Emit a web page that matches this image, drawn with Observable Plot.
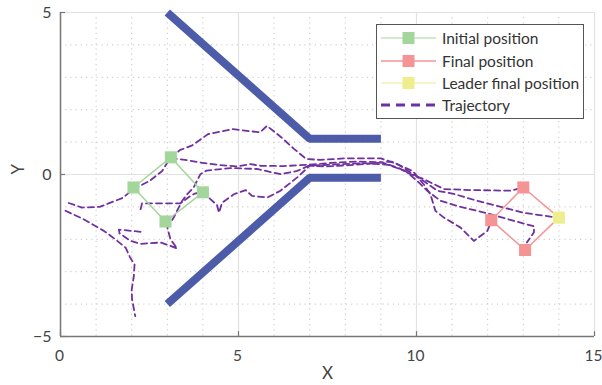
<!DOCTYPE html>
<html>
<head>
<meta charset="utf-8">
<script src="https://cdn.jsdelivr.net/npm/d3@7"></script>
<script src="https://cdn.jsdelivr.net/npm/@observablehq/plot@0.6"></script>
<style>
  body { margin: 0; background: white; }
  #wrap { position: relative; width: 602px; height: 385px; font-family: Lato, "Noto Sans", sans-serif; }
  #legend { position: absolute; left: 376px; top: 24px; width: 208px; height: 95px; border: 1px solid #555; background: white; box-sizing: border-box; }
  .row { position: absolute; left: 0; height: 20px; display: flex; align-items: center; }
  .row span { font-size: 15.5px; color: #333; margin-left: 5px; white-space: nowrap; }
</style>
</head>
<body>
<div id="wrap"></div>
<script>
// ---- data ----
const xTicks = [0, 5, 10, 15];
const yTicks = [-5, 0, 5];
const xMinor = [1, 2, 3, 4, 6, 7, 8, 9, 11, 12, 13, 14];
const yMinor = [-4, -3, -2, -1, 1, 2, 3, 4];

const wallUpper = [[3, 5], [7, 1.1], [9, 1.1]];
const wallLower = [[3, -4], [7, -0.1], [9, -0.1]];

const initialPos = [[2.05, -0.4], [3.1, 0.53], [4.0, -0.55], [2.95, -1.45]];
const finalPos = [[12.1, -1.41], [13.0, -0.4], [13.05, -2.33]];
const leaderFinal = [[14.0, -1.33]];
const finalLoop = [[12.1, -1.41], [13.0, -0.4], [14.0, -1.33], [13.05, -2.33]];

const trajA = [[0.23,-0.88],[0.6,-1.02],[1.1,-1.0],[1.75,-0.72],[2.05,-0.45],[2.5,-0.2],[2.85,0.1],[3.05,0.45],[3.35,0.75],[3.7,0.9],[4.15,1.25],[4.85,1.4],[5.6,1.3],[5.8,1.5],[6.2,1.15],[6.55,0.8],[6.9,0.48],[7.3,0.45],[8.0,0.5],[9.0,0.5],[9.5,0.3],[9.85,0.05],[10.2,-0.2],[10.58,-0.5],[11.05,-0.6],[11.7,-0.81],[12.45,-1.02],[13.0,-1.18],[13.95,-1.33]];
const trajB = [[3.1,0.5],[3.5,0.45],[3.93,0.37],[4.4,0.3],[4.96,0.25],[5.34,0.32],[5.62,0.27],[6.26,0.26],[6.97,0.3],[7.5,0.35],[8.3,0.4],[9.0,0.38],[9.5,0.2],[9.83,0.01],[10.2,-0.14],[10.77,-0.45],[11.52,-0.48],[12.64,-0.5],[13.0,-0.4]];
const trajC = [[0.14,-1.12],[0.65,-1.38],[1.22,-1.74],[1.54,-2.0],[1.83,-2.26],[1.95,-2.55],[2.08,-2.78],[2.06,-3.14],[2.0,-3.55],[2.01,-3.86],[2.1,-4.37]];
const trajD = [[2.25,-1.77],[1.64,-1.7],[1.66,-1.82],[1.97,-2.05],[2.25,-2.14],[2.81,-2.1],[3.09,-2.2],[3.28,-2.29],[3.09,-2.0],[3.0,-1.64],[3.18,-1.33],[3.32,-1.02],[3.42,-0.81],[3.56,-0.61],[3.74,-0.4],[3.93,0.01],[4.1,0.12],[4.78,0.2],[5.52,0.17],[6.18,0.01],[6.65,0.11],[6.97,0.27],[7.5,0.3],[8.5,0.35],[9.2,0.3],[9.7,0.1],[10.02,-0.2],[10.3,-0.5],[10.67,-0.81],[11.24,-1.0],[12.0,-1.2],[12.8,-1.45],[13.3,-1.6],[13.3,-1.78],[13.1,-2.1]];
const trajE = [[2.25,-1.07],[2.29,-0.89],[2.81,-0.89],[3.37,-0.89],[3.6,-0.7],[3.75,-0.6],[4.0,-0.52],[4.21,-0.76],[4.4,-0.95],[4.45,-1.18],[4.54,-0.87],[4.87,-0.61],[5.2,-0.48],[5.38,-0.66],[5.81,-0.71],[6.18,-0.5],[6.65,-0.09],[7.0,0.27],[7.5,0.25],[8.3,0.3],[9.3,0.4],[9.9,0.1],[10.2,-0.3],[10.39,-0.61],[10.53,-1.12],[10.77,-1.33],[11.24,-1.64],[11.61,-2.05],[11.99,-1.74],[12.1,-1.45]];

const legendLabels = ["Initial position", "Final position", "Leader final position", "Trajectory"];

// ---- colors ----
const cWall = "#4c5ca8", cGreen = "#a3d69a", cRed = "#f59494", cYellow = "#eeee8c", cPurple = "#7030a0";

// ---- build tables ----
const walls = [...wallUpper.map(p => ({x: p[0], y: p[1], id: "u"})), ...wallLower.map(p => ({x: p[0], y: p[1], id: "l"}))];
const trajs = [["A", trajA], ["B", trajB], ["C", trajC], ["D", trajD], ["E", trajE]]
  .flatMap(([id, arr]) => arr.map(p => ({x: p[0], y: p[1], id})));
const closeLoop = arr => [...arr, arr[0]].map(p => ({x: p[0], y: p[1]}));
const pts = arr => arr.map(p => ({x: p[0], y: p[1]}));

const chart = Plot.plot({
  width: 602, height: 385,
  marginLeft: 60, marginRight: 8, marginTop: 12, marginBottom: 49,
  x: {domain: [0, 15]},
  y: {domain: [-5, 5]},
  style: {fontFamily: "Lato, 'Noto Sans', sans-serif", fontSize: "16px", color: "#444", background: "white"},
  marks: [
    Plot.gridX(xMinor, {stroke: "#c4c4c4", strokeOpacity: 1, strokeDasharray: "1.2,4"}),
    Plot.gridY(yMinor, {stroke: "#c4c4c4", strokeOpacity: 1, strokeDasharray: "1.2,4"}),
    Plot.gridX(xTicks, {stroke: "#e2e2e2", strokeOpacity: 1, strokeWidth: 1.2}),
    Plot.gridY(yTicks, {stroke: "#e2e2e2", strokeOpacity: 1, strokeWidth: 1.2}),
    Plot.ruleX([0], {stroke: "#777", strokeWidth: 1.5}),
    Plot.ruleY([-5], {stroke: "#777", strokeWidth: 1.5}),
    Plot.ruleX(xTicks, {y1: -5, y2: -4.85, stroke: "#777", strokeWidth: 1.2}),
    Plot.ruleY(yTicks, {x1: 0, x2: 0.14, stroke: "#777", strokeWidth: 1.2}),
    Plot.axisX(xTicks, {tickSize: 0, tickPadding: 13, fontSize: 15.5, dx: -1, label: null}),
    Plot.axisY(yTicks, {tickSize: 0, tickPadding: 9, fontSize: 16, label: null}),
    Plot.text(["X"], {frameAnchor: "bottom", dy: 42, fontSize: 17, fill: "#444"}),
    Plot.text(["Y"], {frameAnchor: "left", dx: -42, rotate: -90, fontSize: 17, fill: "#444"}),
    Plot.line(walls, {x: "x", y: "y", z: "id", stroke: cWall, strokeWidth: 8, strokeLinejoin: "miter", strokeLinecap: "butt"}),
    Plot.line(trajs, {x: "x", y: "y", z: "id", stroke: cPurple, strokeWidth: 1.8, strokeDasharray: "6,4"}),
    Plot.line(closeLoop(initialPos), {x: "x", y: "y", stroke: cGreen, strokeWidth: 1.5}),
    Plot.line(closeLoop(finalLoop), {x: "x", y: "y", stroke: cRed, strokeWidth: 1.5}),
    Plot.dot(pts(initialPos), {x: "x", y: "y", symbol: "square", r: 6.8, fill: cGreen}),
    Plot.dot(pts(finalPos), {x: "x", y: "y", symbol: "square", r: 6.8, fill: cRed}),
    Plot.dot(pts(leaderFinal), {x: "x", y: "y", symbol: "square", r: 6.8, fill: cYellow})
  ]
});

const wrap = document.getElementById("wrap");
wrap.appendChild(chart);

// ---- legend (overlay inside plot area) ----
const legend = document.createElement("div");
legend.id = "legend";
const styles = [
  {color: cGreen, w: 1, dash: null, sq: true},
  {color: cRed, w: 1.5, dash: null, sq: true},
  {color: cYellow, w: 1, dash: null, sq: true},
  {color: cPurple, w: 3, dash: "9,6", sq: false}
];
const rowTops = [3, 26, 48, 70];
legendLabels.forEach((lab, i) => {
  const s = styles[i];
  const row = document.createElement("div");
  row.className = "row";
  row.style.top = rowTops[i] + "px";
  const svg = `<svg width="60" height="20" style="display:block">
    <line x1="4" x2="59" y1="10" y2="10" stroke="${s.color}" stroke-width="${s.w}" ${s.dash ? `stroke-dasharray="${s.dash}"` : ""}/>
    ${s.sq ? `<rect x="25.5" y="4" width="12" height="12" fill="${s.color}"/>` : ""}
  </svg>`;
  row.innerHTML = svg + `<span>${lab}</span>`;
  legend.appendChild(row);
});
wrap.appendChild(legend);
</script>
</body>
</html>
